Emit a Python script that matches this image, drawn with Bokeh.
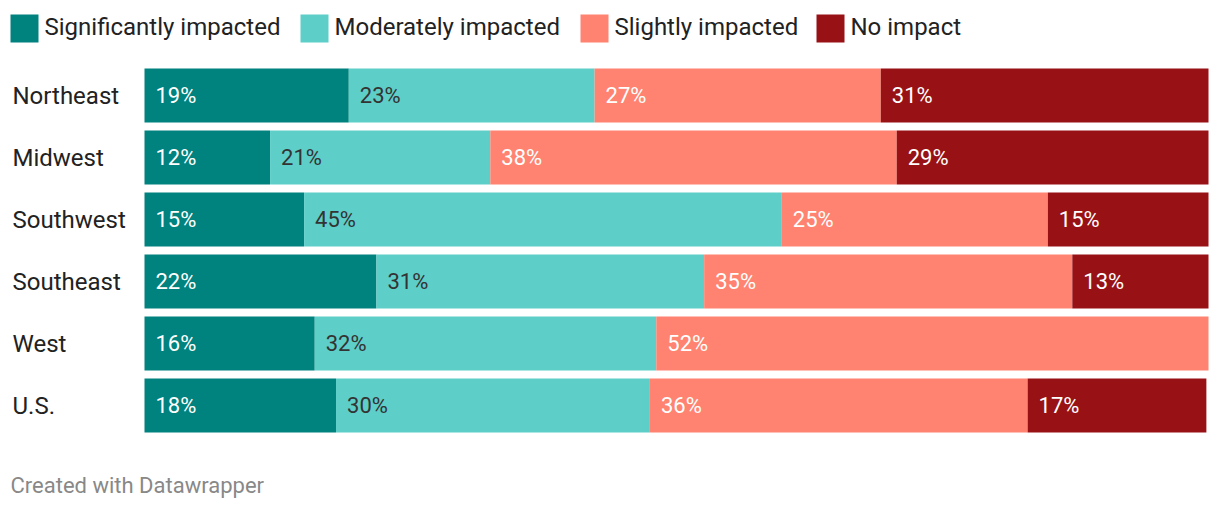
from bokeh.plotting import figure
from bokeh.models import ColumnDataSource, Range1d
from bokeh.core.properties import value
from bokeh.embed import file_html
from bokeh.resources import INLINE

# ---- data ----
regions = ["Northeast", "Midwest", "Southwest", "Southeast", "West", "U.S."]
series_names = ["Significantly impacted", "Moderately impacted", "Slightly impacted", "No impact"]
significantly = [19.2, 11.8, 15.0, 21.8, 16.0, 18.0]
moderately = [23.1, 20.7, 44.9, 30.8, 32.1, 29.5]
slightly = [26.9, 38.2, 25.0, 34.6, 51.9, 35.5]
no_impact = [30.8, 29.3, 15.1, 12.8, 0.0, 16.8]
colors = ["#00827e", "#5ecec9", "#ff8370", "#981114"]
label_colors = ["#ffffff", "#333333", "#ffffff", "#ffffff"]
credit = "Created with Datawrapper"

series = [significantly, moderately, slightly, no_impact]

# ---- layout (page pixel geometry) ----
W, H = 1212, 502
PAGE0 = 0
BAR_X0, BAR_X1 = 144, 1208        # page x of 0% and 100%
ROW0, PITCH, BAR_H = 95, 62, 54   # page y centre of first row, row pitch, bar height
pxu = (BAR_X1 - BAR_X0) / 100.0


def px(x):
    return (x - BAR_X0) / pxu


def py(y):
    return (y - ROW0) / PITCH


p = figure(width=W, height=H, output_backend="svg", toolbar_location=None,
           x_range=Range1d(px(PAGE0), px(PAGE0 + W)),
           y_range=Range1d(py(PAGE0 + H), py(PAGE0)),
           min_border=0, border_fill_color="white", background_fill_color="white")
p.axis.visible = False
p.grid.visible = False
p.outline_line_color = None

FONT = value("Roboto")
idx = list(range(len(regions)))
left = [0.0] * len(regions)
for k, vals in enumerate(series):
    right = [l + v for l, v in zip(left, vals)]
    src = ColumnDataSource(dict(y=idx, left=left, right=right))
    p.hbar(y="y", left="left", right="right", height=BAR_H / PITCH, source=src,
           fill_color=colors[k], line_color=None)
    lab = [(l, i, f"{int(v + 0.5)}%") for l, i, v in zip(left, idx, vals) if v > 0]
    lsrc = ColumnDataSource(dict(x=[a[0] for a in lab], y=[a[1] for a in lab],
                                 t=[a[2] for a in lab]))
    p.text(x="x", y="y", text="t", source=lsrc, x_offset=11, text_font=FONT,
           text_font_size="22px", text_color=label_colors[k], text_baseline="middle",
           text_align="left")
    left = right

# row labels
p.text(x=[px(12)] * len(regions), y=idx, text=regions, text_font=FONT,
       text_font_size="24px", text_color="#222222", text_baseline="middle", text_align="left")

# legend
leg_x = [10, 300, 580, 816]
p.rect(x=[px(x + 14) for x in leg_x], y=[py(28)] * 4, width=28, height=28,
       width_units="screen", height_units="screen", fill_color=colors, line_color=None)
p.text(x=[px(x + 34) for x in leg_x], y=[py(26)] * 4, text=series_names, text_font=FONT,
       text_font_size="24px", text_color="#222222", text_baseline="middle", text_align="left")

# credit
p.text(x=[px(10)], y=[py(485)], text=[credit], text_font=FONT, text_font_size="22px",
       text_color="#888888", text_baseline="middle", text_align="left")

open("out.html", "w").write(file_html(p, INLINE))
